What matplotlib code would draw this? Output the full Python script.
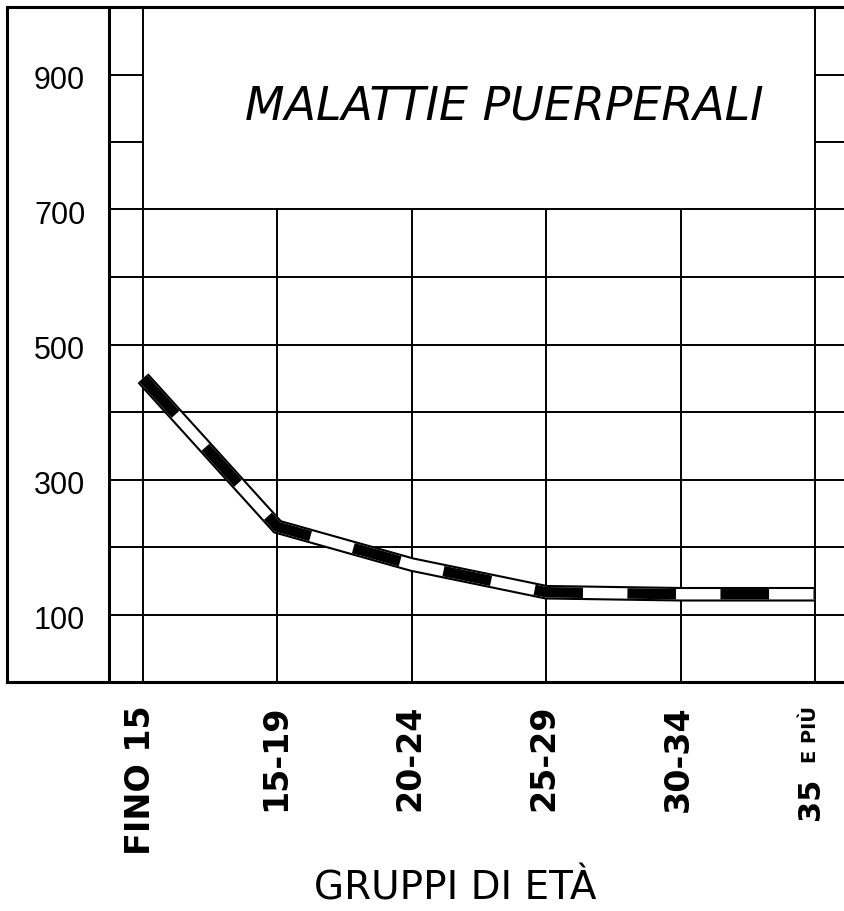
import matplotlib
matplotlib.use("Agg")
import matplotlib.pyplot as plt

# --- data ---
categories = ["FINO 15", "15-19", "20-24", "25-29", "30-34", "35"]
last_suffix = "E PIÙ"
values = [450, 230, 174, 133, 130, 130]
ytick_values = [100, 300, 500, 700, 900]
grid_levels = [100, 200, 300, 400, 500, 600, 700, 800, 900]
title = "MALATTIE PUERPERALI"
xlabel = "GRUPPI DI ETÀ"

plt.rcParams['lines.scale_dashes'] = False

fig = plt.figure(figsize=(8.44, 9.11), dpi=100)
ax = fig.add_axes([7 / 844, (911 - 682) / 911, 837 / 844, 675 / 911])

x = list(range(len(categories)))
x_left, x_right = -1.012, 5.216
inner_axis = -0.253
ax.set_xlim(x_left, x_right)
ax.set_ylim(0, 1000)

# grid: full rows below 700, short stubs beside the title box above it
for lvl in grid_levels:
    if lvl <= 700:
        ax.hlines(lvl, inner_axis, x_right, color='black', lw=1.4, zorder=1)
    else:
        ax.hlines(lvl, inner_axis, x[0], color='black', lw=1.4, zorder=1)
        ax.hlines(lvl, x[-1], x_right, color='black', lw=1.4, zorder=1)
for xi in x:
    top = 1000 if xi in (x[0], x[-1]) else 700
    ax.vlines(xi, 0, top, color='black', lw=1.4, zorder=1)
ax.vlines(inner_axis, 0, 1000, color='black', lw=2.2, zorder=1)

# the banded line: black outline, white core, black dashes
ax.plot(x, values, color='black', lw=10.5, solid_joinstyle='miter',
        solid_capstyle='butt', zorder=3)
ax.plot(x, values, color='white', lw=7.5, solid_joinstyle='miter',
        solid_capstyle='butt', zorder=4)
ax.plot(x, values, color='black', lw=7.5, linestyle=(0, (35, 32)),
        dash_joinstyle='miter', dash_capstyle='butt', zorder=5)

# y labels inside the outer frame
for v in ytick_values:
    ax.text(-0.62, v - 10, str(v), ha='center', va='center',
            fontsize=22, family='Liberation Sans')

# x labels, rotated
xt = ax.get_xaxis_transform()
for xi, lab in zip(x[:-1], categories[:-1]):
    ax.text(xi - 0.015, -0.034, lab, rotation=90, ha='center', va='top',
            fontsize=24, fontweight='bold', transform=xt)
ax.text(x[-1] - 0.035, -0.142, categories[-1], rotation=90, ha='center',
        va='top', fontsize=22, fontweight='bold', transform=xt)
ax.text(x[-1] - 0.03, -0.036, last_suffix, rotation=90, ha='center',
        va='top', fontsize=14, fontweight='bold', transform=xt)

ax.text(2.686, 852, title, ha='center', va='center', fontsize=33,
        style='italic', zorder=6)

ax.set_xticks([])
ax.set_yticks([])
ax.set_xlabel(xlabel, fontsize=28)
ax.xaxis.set_label_coords(0.535, -0.2785)

for side in ['left', 'bottom', 'top']:
    ax.spines[side].set_linewidth(2.2)
ax.spines['right'].set_visible(False)

plt.savefig('out.png', dpi=100)
